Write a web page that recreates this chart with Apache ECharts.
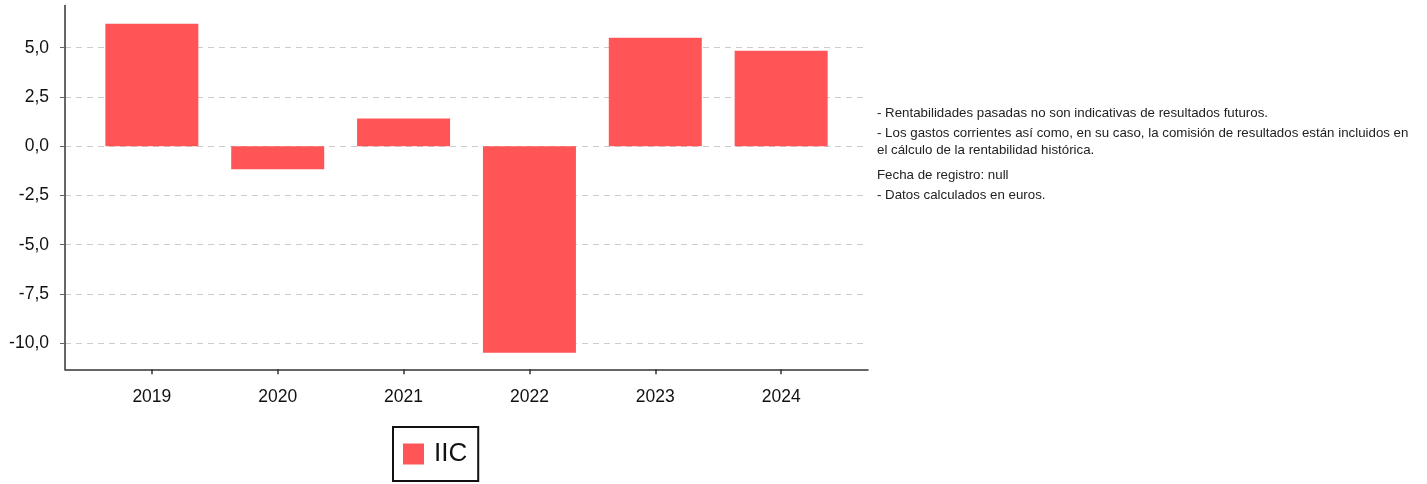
<!DOCTYPE html>
<html><head><meta charset="utf-8">
<script src="https://cdn.jsdelivr.net/npm/echarts@6/dist/echarts.min.js"></script>
<style>html,body{margin:0;padding:0;background:#fff}#c{width:1427px;height:484px}</style>
</head><body><div id="c"></div>
<script>
const categories = ['2019', '2020', '2021', '2022', '2023', '2024'];
const values = [6.21, -1.17, 1.40, -10.48, 5.50, 4.85];
const yTicks = [-10, -7.5, -5, -2.5, 0, 2.5, 5];
const seriesName = 'IIC';
const notes = [
  '- Rentabilidades pasadas no son indicativas de resultados futuros.',
  '- Los gastos corrientes así como, en su caso, la comisión de resultados están incluidos en',
  'el cálculo de la rentabilidad histórica.',
  'Fecha de registro: null',
  '- Datos calculados en euros.'
];
const noteTops = [107, 127, 144, 169, 189];

const FONT = '"Liberation Sans", Arial, sans-serif';
const chart = echarts.init(document.getElementById('c'));
const xIdx = categories.map((c, i) => i);
chart.setOption({
  animation: false,
  grid: { left: 65, right: 559, top: 5.5, bottom: 114.7, containLabel: false },
  xAxis: {
    type: 'value', min: -0.69, max: 5.69,
    splitLine: { show: false },
    axisLine: { show: true, onZero: false, lineStyle: { color: '#333', width: 1.5 } },
    axisTick: { show: true, customValues: xIdx, length: 5, lineStyle: { color: '#333', width: 1.5 } },
    axisLabel: { customValues: xIdx, formatter: v => categories[Math.round(v)], fontSize: 17.5, color: '#111', fontFamily: FONT, margin: 19 }
  },
  yAxis: {
    type: 'value', min: -11.32, max: 7.14,
    axisLine: { show: true, onZero: false, lineStyle: { color: '#333', width: 1.5 } },
    axisTick: { show: true, customValues: yTicks, length: 5, lineStyle: { color: '#666' } },
    splitLine: { show: true, lineStyle: { color: '#ccc', type: [6, 5], width: 1 } },
    axisLabel: { customValues: yTicks, formatter: v => v.toFixed(1).replace('.', ','), fontSize: 17.5, color: '#111', fontFamily: FONT, margin: 16 }
  },
  legend: {
    data: [seriesName], left: 393, top: 427, icon: 'rect', itemWidth: 21, itemHeight: 21,
    borderColor: '#111', borderWidth: 2, padding: [14, 11, 14, 10],
    textStyle: { fontSize: 26, color: '#111', fontFamily: FONT, padding: [0, 0, 0, 5] }
  },
  graphic: notes.map((t, i) => ({
    type: 'text', left: 877, top: noteTops[i],
    style: { text: t, font: '13.3px ' + FONT, fill: '#222' }
  })),
  series: [{
    name: seriesName, type: 'bar', barWidth: 93,
    itemStyle: { color: '#ff5556' },
    data: categories.map((c, i) => [i, values[i]])
  }]
});
</script></body></html>
